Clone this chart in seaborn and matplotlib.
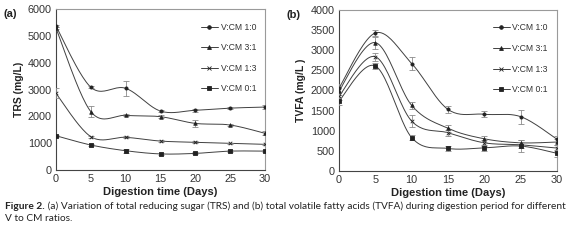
import numpy as np
import pandas as pd
import matplotlib
matplotlib.use("Agg")
import matplotlib.pyplot as plt
import seaborn as sns

days = [0, 5, 10, 15, 20, 25, 30]
ratios = ["V:CM 1:0", "V:CM 3:1", "V:CM 1:3", "V:CM 0:1"]

# (a) TRS mg/L
trs_10 = [5370, 3090, 3050, 2200, 2230, 2310, 2350]
trs_31 = [5290, 2180, 2040, 1990, 1740, 1680, 1370]
trs_13 = [2860, 1245, 1220, 1080, 1035, 995, 958]
trs_01 = [1280, 933, 720, 600, 620, 705, 705]
trs_err_10 = [40, 30, 270, 50, 50, 50, 80]
trs_err_31 = [40, 210, 40, 50, 140, 40, 70]
trs_err_13 = [190, 40, 40, 30, 30, 30, 30]
trs_err_01 = [40, 40, 80, 40, 40, 30, 30]

# (b) TVFA mg/L
tvfa_10 = [2060, 3430, 2670, 1530, 1410, 1350, 790]
tvfa_31 = [1990, 3190, 1630, 1060, 800, 700, 720]
tvfa_13 = [1860, 2840, 1240, 950, 700, 650, 570]
tvfa_01 = [1740, 2610, 830, 560, 575, 620, 440]
tvfa_err_10 = [100, 80, 150, 80, 80, 170, 80]
tvfa_err_31 = [110, 150, 80, 80, 80, 80, 80]
tvfa_err_13 = [100, 100, 150, 80, 80, 80, 80]
tvfa_err_01 = [100, 70, 70, 70, 70, 150, 80]

MARKERS = ["o", "^", "x", "s"]
MSIZES = [2.0, 2.2, 2.2, 2.5]
LINE_C = "#404040"
ERR_C = "#8a8a8a"
FONT = ["Liberation Sans Narrow", "Liberation Sans", "DejaVu Sans"]

sns.set_style("white")
plt.rcParams["font.family"] = FONT


def smooth(x, y, n=24):
    """Excel-style smoothed line (Bezier through the points)"""
    p = np.column_stack([x, y]).astype(float)
    pad = np.vstack([p[0], p, p[-1]])
    out = []
    t = np.linspace(0, 1, n)[:, None]
    for i in range(1, len(pad) - 2):
        p0, p1, p2, p3 = pad[i - 1], pad[i], pad[i + 1], pad[i + 2]
        c1 = p1 + (p2 - p0) / 6
        c2 = p2 - (p3 - p1) / 6
        seg = ((1 - t) ** 3) * p1 + 3 * ((1 - t) ** 2) * t * c1 + 3 * (1 - t) * t ** 2 * c2 + t ** 3 * p2
        out.append(seg if i == 1 else seg[1:])
    out = np.vstack(out)
    return out[:, 0], out[:, 1]


def panel(ax, series, errs, ylim, ystep, ylabel, tag):
    for k, (name, vals, err) in enumerate(zip(ratios, series, errs)):
        sx, sy = smooth(days, vals)
        sns.lineplot(x=sx, y=sy, ax=ax, color=LINE_C, lw=0.7, sort=False,
                     estimator=None, legend=False)
        ax.errorbar(days, vals, yerr=err, fmt="none", ecolor=ERR_C, elinewidth=0.6,
                    capsize=2, capthick=0.6, zorder=3)
        ax.plot([], [], color=LINE_C, lw=0.7, marker=MARKERS[k], ms=MSIZES[k] + 0.6,
                mfc="#222222", mec="#222222", mew=0.6, label=name)
        sns.scatterplot(x=days, y=vals, ax=ax, marker=MARKERS[k], s=MSIZES[k] ** 2 * 1.3,
                        color="#222222", edgecolor="#222222", linewidth=0.6, zorder=4)
    ax.set_xlim(0, 30)
    ax.set_ylim(*ylim)
    ax.set_xticks(range(0, 31, 5))
    ax.set_yticks(np.arange(ylim[0], ylim[1] + 1, ystep))
    ax.tick_params(axis="both", labelsize=7.8, colors="#333333", length=0, pad=3)
    for s in ax.spines.values():
        s.set_color("#9a9a9a")
        s.set_linewidth(0.8)
    ax.spines["left"].set_color("#444444")
    ax.spines["bottom"].set_color("#444444")
    ax.set_xlabel("Digestion time (Days)", fontsize=8, fontweight="bold", color="#222222", labelpad=2)
    ax.set_ylabel(ylabel, fontsize=7.5, fontweight="bold", color="#222222", labelpad=3)
    ax.legend(loc="upper right", frameon=False, fontsize=6.2, handlelength=2.0,
              labelspacing=1.35, borderaxespad=0.4, bbox_to_anchor=(0.99, 0.96),
              labelcolor="#333333", handletextpad=0.3)
    ax.text(-0.25 if tag == "(a)" else -0.24, 1.0, tag, transform=ax.transAxes,
            fontsize=8, fontweight="bold", va="top", color="#222222")


fig = plt.figure(figsize=(5.67, 2.41), dpi=100)
ax1 = fig.add_axes([56 / 567, 1 - 170 / 241, 209 / 567, 160.7 / 241])
ax2 = fig.add_axes([339 / 567, 1 - 171 / 241, 218 / 567, 161 / 241])

panel(ax1, [trs_10, trs_31, trs_13, trs_01],
      [trs_err_10, trs_err_31, trs_err_13, trs_err_01],
      (0, 6000), 1000, "TRS (mg/L)", "(a)")
panel(ax2, [tvfa_10, tvfa_31, tvfa_13, tvfa_01],
      [tvfa_err_10, tvfa_err_31, tvfa_err_13, tvfa_err_01],
      (0, 4000), 500, "TVFA (mg/L )", "(b)")

cap_font = ["Lato", "DejaVu Sans"]
CAP_FS = 7.3
t1 = fig.text(5 / 567, 1 - 209 / 241, "Figure 2.", fontsize=CAP_FS, fontweight="bold",
              family=cap_font, color="#222222", va="baseline")
ax1.annotate(" (a) Variation of total reducing sugar (TRS) and (b) total volatile fatty acids (TVFA) "
             "during digestion period for different",
             xy=(1, 0), xycoords=t1, va="bottom", ha="left", fontsize=CAP_FS,
             family=cap_font, color="#222222", annotation_clip=False)
fig.text(5 / 567, 1 - 221 / 241, "V to CM ratios.", fontsize=CAP_FS, family=cap_font,
         color="#222222", va="baseline")

fig.savefig("out.png", dpi=100)
